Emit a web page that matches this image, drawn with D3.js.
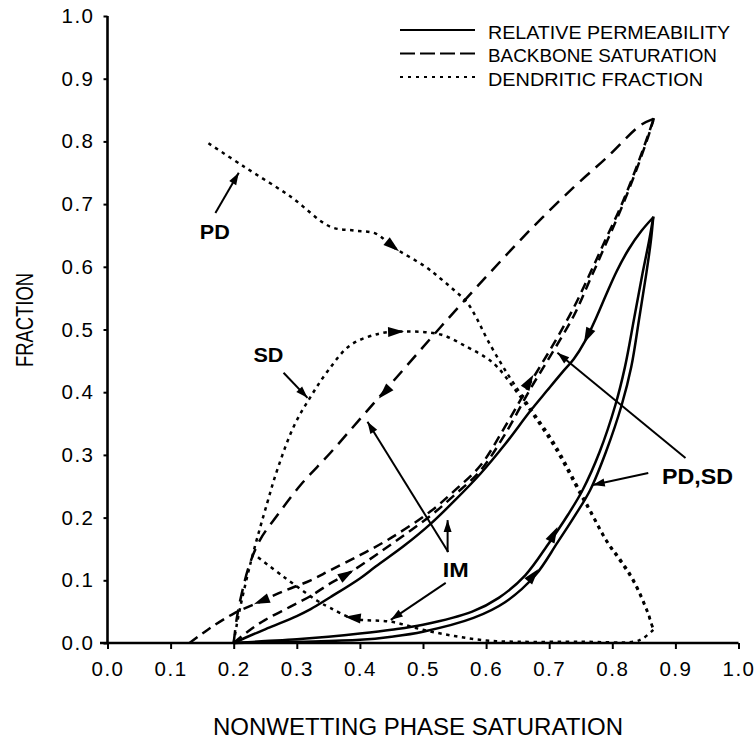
<!DOCTYPE html>
<html>
<head>
<meta charset="utf-8">
<script src="https://cdn.jsdelivr.net/npm/d3@7"></script>
<style>
  body { margin: 0; background: #fff; }
  text { font-family: "Liberation Sans", Arial, Helvetica, sans-serif; fill: #000; }
</style>
</head>
<body>
<svg id="chart" width="755" height="743"></svg>
<script>
// ---- data ----
const xTicks = [0.0, 0.1, 0.2, 0.3, 0.4, 0.5, 0.6, 0.7, 0.8, 0.9, 1.0]
const yTicks = [0.0, 0.1, 0.2, 0.3, 0.4, 0.5, 0.6, 0.7, 0.8, 0.9, 1.0]
const xTitle = 'NONWETTING PHASE SATURATION'
const yTitle = 'FRACTION'
const legendLabels = ['RELATIVE PERMEABILITY', 'BACKBONE SATURATION', 'DENDRITIC FRACTION']
const calloutLabels = ['PD', 'SD', 'IM', 'PD,SD']

// relative permeability
const permImb = [[0.2, 0.0], [0.222, 0.01], [0.26, 0.026], [0.3, 0.043], [0.322, 0.054], [0.353, 0.073],
  [0.4, 0.103], [0.425, 0.122], [0.47, 0.155], [0.512, 0.19], [0.55, 0.227], [0.591, 0.27],
  [0.63, 0.317], [0.67, 0.37], [0.697, 0.403], [0.721, 0.432], [0.739, 0.453], [0.757, 0.482],
  [0.775, 0.52], [0.79, 0.555], [0.807, 0.593], [0.826, 0.628], [0.846, 0.657], [0.865, 0.679]]
const permPD = [[0.2, 0.0], [0.25, 0.003], [0.3, 0.006], [0.35, 0.01], [0.4, 0.015], [0.45, 0.021],
  [0.5, 0.029], [0.578, 0.05], [0.62, 0.072], [0.662, 0.108], [0.7, 0.16], [0.73, 0.205],
  [0.753, 0.244], [0.78, 0.305], [0.805, 0.38], [0.82, 0.44], [0.835, 0.52], [0.848, 0.59],
  [0.858, 0.64], [0.865, 0.68]]
const permSD = [[0.2, 0.0], [0.3, 0.002], [0.4, 0.005], [0.45, 0.01], [0.5, 0.018], [0.58, 0.04],
  [0.63, 0.065], [0.678, 0.108], [0.713, 0.16], [0.742, 0.205], [0.765, 0.244], [0.79, 0.305],
  [0.815, 0.38], [0.83, 0.44], [0.843, 0.52], [0.854, 0.59], [0.861, 0.64], [0.865, 0.68]]

// backbone saturation
const backboneImb = [[0.2, 0.0], [0.205, 0.04], [0.213, 0.08], [0.225, 0.125], [0.242, 0.165],
  [0.27, 0.205], [0.306, 0.252], [0.353, 0.303], [0.406, 0.364], [0.468, 0.435], [0.528, 0.504],
  [0.6, 0.584], [0.67, 0.659], [0.739, 0.727], [0.792, 0.775], [0.845, 0.826], [0.868, 0.837]]
const backboneSD = [[0.13, 0.0], [0.16, 0.022], [0.2, 0.047], [0.24, 0.065], [0.28, 0.083], [0.322, 0.1],
  [0.353, 0.116], [0.4, 0.14], [0.45, 0.168], [0.512, 0.21], [0.55, 0.243], [0.591, 0.283],
  [0.63, 0.345], [0.67, 0.415], [0.707, 0.477], [0.739, 0.535], [0.765, 0.59], [0.79, 0.645],
  [0.813, 0.695], [0.835, 0.75], [0.855, 0.805], [0.866, 0.837]]
const backbonePD = [[0.2, 0.0], [0.222, 0.018], [0.25, 0.037], [0.29, 0.058], [0.322, 0.075],
  [0.353, 0.095], [0.385, 0.113], [0.425, 0.14], [0.47, 0.172], [0.512, 0.203], [0.55, 0.236],
  [0.591, 0.275], [0.63, 0.333], [0.67, 0.405], [0.705, 0.463], [0.74, 0.524], [0.765, 0.58],
  [0.79, 0.637], [0.813, 0.69], [0.835, 0.746], [0.855, 0.802], [0.866, 0.837]]

// dendritic fraction
const dendPD = [[0.16, 0.797], [0.216, 0.76], [0.29, 0.712], [0.353, 0.664], [0.39, 0.658], [0.425, 0.653],
  [0.452, 0.632], [0.504, 0.6], [0.528, 0.581], [0.549, 0.563], [0.57, 0.543], [0.586, 0.516],
  [0.602, 0.484], [0.623, 0.447], [0.643, 0.415], [0.674, 0.369], [0.71, 0.315], [0.75, 0.24],
  [0.765, 0.212], [0.792, 0.162], [0.813, 0.133], [0.834, 0.1], [0.856, 0.05], [0.865, 0.021]]
const dendSD = [[0.2, 0.0], [0.205, 0.03], [0.211, 0.06], [0.22, 0.1], [0.232, 0.148], [0.253, 0.223],
  [0.269, 0.276], [0.295, 0.345], [0.322, 0.393], [0.35, 0.435], [0.385, 0.475], [0.433, 0.494],
  [0.47, 0.497], [0.528, 0.492], [0.57, 0.472], [0.6, 0.455], [0.618, 0.44], [0.643, 0.408],
  [0.674, 0.365], [0.71, 0.31], [0.75, 0.236], [0.765, 0.209], [0.792, 0.16], [0.813, 0.13],
  [0.834, 0.097], [0.856, 0.048], [0.865, 0.021]]
const dendImb = [[0.865, 0.021], [0.848, 0.007], [0.834, 0.002], [0.75, 0.002], [0.65, 0.002],
  [0.6, 0.004], [0.55, 0.011], [0.5, 0.021], [0.449, 0.034], [0.39, 0.039], [0.353, 0.056],
  [0.333, 0.067], [0.28, 0.105], [0.238, 0.137]]

// direction markers on the curves: [x0, y0, x1, y1], head points at (x1, y1)
const flowArrows = [
  [0.435, 0.647, 0.462, 0.625],
  [0.44, 0.496, 0.47, 0.497],
  [0.46, 0.422, 0.43, 0.39],
  [0.775, 0.52, 0.755, 0.478],
  [0.655, 0.395, 0.675, 0.428],
  [0.262, 0.074, 0.232, 0.062],
  [0.36, 0.098, 0.39, 0.116],
  [0.41, 0.038, 0.376, 0.042],
  [0.695, 0.15, 0.713, 0.185],
  [0.66, 0.09, 0.683, 0.118]
]
// pointer lines from the callouts: [x0, y0, x1, y1]
const pointers = [
  [0.171, 0.686, 0.208, 0.75],
  [0.279, 0.431, 0.317, 0.391],
  [0.54, 0.145, 0.412, 0.353],
  [0.539, 0.145, 0.539, 0.196],
  [0.536, 0.096, 0.449, 0.037],
  [0.857, 0.271, 0.769, 0.252],
  [0.916, 0.295, 0.713, 0.463]
]

// ---- drawing ----
var x = d3.scaleLinear().domain([0, 1]).range([107.5, 738.5])
var y = d3.scaleLinear().domain([0, 1]).range([643, 16])
var svg = d3.select('#chart')

var line = d3.line()
  .x(d => x(d[0]))
  .y(d => y(d[1]))
  .curve(d3.curveCatmullRom.alpha(0.5))

var DASH_LONG = '13,8'
var DASH_SHORT = '10,6'
var DOT = '3.5,4.5'

var curves = [
  { pts: permImb, dash: null },
  { pts: permPD, dash: null },
  { pts: permSD, dash: null },
  { pts: backboneImb, dash: DASH_LONG },
  { pts: backboneSD, dash: DASH_SHORT },
  { pts: backbonePD, dash: DASH_SHORT },
  { pts: dendPD, dash: DOT },
  { pts: dendSD, dash: DOT },
  { pts: dendImb, dash: DOT }
]

svg.append('g').selectAll('path')
  .data(curves)
  .enter()
  .append('path')
  .attr('d', d => line(d.pts))
  .attr('fill', 'none')
  .attr('stroke', '#000')
  .attr('stroke-width', 2.5)
  .attr('stroke-dasharray', d => d.dash)

// filled triangle with its tip at (x1, y1) in pixels
function headPoints (x0, y0, x1, y1, len, wid) {
  var a = Math.atan2(y1 - y0, x1 - x0)
  var bx = x1 - len * Math.cos(a)
  var by = y1 - len * Math.sin(a)
  var px = Math.sin(a) * wid / 2
  var py = -Math.cos(a) * wid / 2
  return [[x1, y1], [bx + px, by + py], [bx - px, by - py]].map(p => p.join(',')).join(' ')
}

svg.append('g').selectAll('polygon')
  .data(flowArrows)
  .enter()
  .append('polygon')
  .attr('points', d => headPoints(x(d[0]), y(d[1]), x(d[2]), y(d[3]), 16, 10))
  .attr('fill', '#000')

var ptr = svg.append('g')
ptr.selectAll('line')
  .data(pointers)
  .enter()
  .append('line')
  .attr('x1', d => x(d[0]))
  .attr('y1', d => y(d[1]))
  .attr('x2', d => x(d[2]))
  .attr('y2', d => y(d[3]))
  .attr('stroke', '#000')
  .attr('stroke-width', 2)
ptr.selectAll('polygon')
  .data(pointers)
  .enter()
  .append('polygon')
  .attr('points', d => headPoints(x(d[0]), y(d[1]), x(d[2]), y(d[3]), 12, 8))
  .attr('fill', '#000')

// callout labels (position in data units, width of the printed word)
var calloutPos = [[0.170, 0.656, 30, 20], [0.255, 0.459, 30, 20], [0.552, 0.116, 26, 20], [0.935, 0.266, 71, 22]]
svg.append('g').selectAll('text')
  .data(calloutLabels)
  .enter()
  .append('text')
  .attr('x', (d, i) => x(calloutPos[i][0]))
  .attr('y', (d, i) => y(calloutPos[i][1]))
  .attr('dy', '0.36em')
  .attr('text-anchor', 'middle')
  .attr('font-weight', 'bold')
  .attr('font-size', (d, i) => calloutPos[i][3])
  .attr('textLength', (d, i) => calloutPos[i][2])
  .attr('lengthAdjust', 'spacingAndGlyphs')
  .text(d => d)

// axes
var xAxis = d3.axisBottom(x)
  .tickValues(xTicks)
  .tickFormat(d3.format('.1f'))
  .tickSize(6)
  .tickPadding(12)
var gx = svg.append('g')
  .attr('transform', 'translate(0,' + y(0) + ')')
  .call(xAxis)
gx.select('.domain').remove()

var yAxis = d3.axisLeft(y)
  .tickValues(yTicks)
  .tickFormat(d3.format('.1f'))
  .tickSize(4)
  .tickPadding(9)
var gy = svg.append('g')
  .attr('transform', 'translate(' + x(0) + ',0)')
  .call(yAxis)
gy.select('.domain').remove()

svg.selectAll('.tick line').attr('stroke', '#000').attr('stroke-width', 2)
svg.selectAll('.tick text')
  .attr('font-family', '"Liberation Sans", Arial, sans-serif')
  .attr('font-size', 20.5)
  .attr('letter-spacing', '1.5px')
  .attr('fill', '#000')

svg.append('line')
  .attr('x1', 100).attr('x2', x(1))
  .attr('y1', y(0)).attr('y2', y(0))
  .attr('stroke', '#000').attr('stroke-width', 2.6)
svg.append('line')
  .attr('x1', x(0)).attr('x2', x(0))
  .attr('y1', y(0)).attr('y2', y(1))
  .attr('stroke', '#000').attr('stroke-width', 2.6)

svg.append('text')
  .attr('x', 418)
  .attr('y', 735)
  .attr('text-anchor', 'middle')
  .attr('font-size', 23)
  .attr('textLength', 410)
  .attr('lengthAdjust', 'spacingAndGlyphs')
  .text(xTitle)

svg.append('text')
  .attr('transform', 'translate(33,320) rotate(-90)')
  .attr('text-anchor', 'middle')
  .attr('font-size', 24)
  .attr('textLength', 94)
  .attr('lengthAdjust', 'spacingAndGlyphs')
  .text(yTitle)

// legend
var legendDash = [null, '15,5', '3,5']
var legendWidth = [242, 229, 215]
var legend = svg.append('g').attr('transform', 'translate(400,32)')
var row = legend.selectAll('g')
  .data(legendLabels)
  .enter()
  .append('g')
  .attr('transform', (d, i) => 'translate(0,' + (i * 23.5) + ')')
row.append('line')
  .attr('x1', 0).attr('x2', 75)
  .attr('y1', -2).attr('y2', -2)
  .attr('stroke', '#000')
  .attr('stroke-width', 2.2)
  .attr('stroke-dasharray', (d, i) => legendDash[i])
row.append('text')
  .attr('x', 88)
  .attr('y', 0)
  .attr('dy', '0.36em')
  .attr('font-size', 19)
  .attr('textLength', (d, i) => legendWidth[i])
  .attr('lengthAdjust', 'spacingAndGlyphs')
  .text(d => d)
</script>
</body>
</html>
